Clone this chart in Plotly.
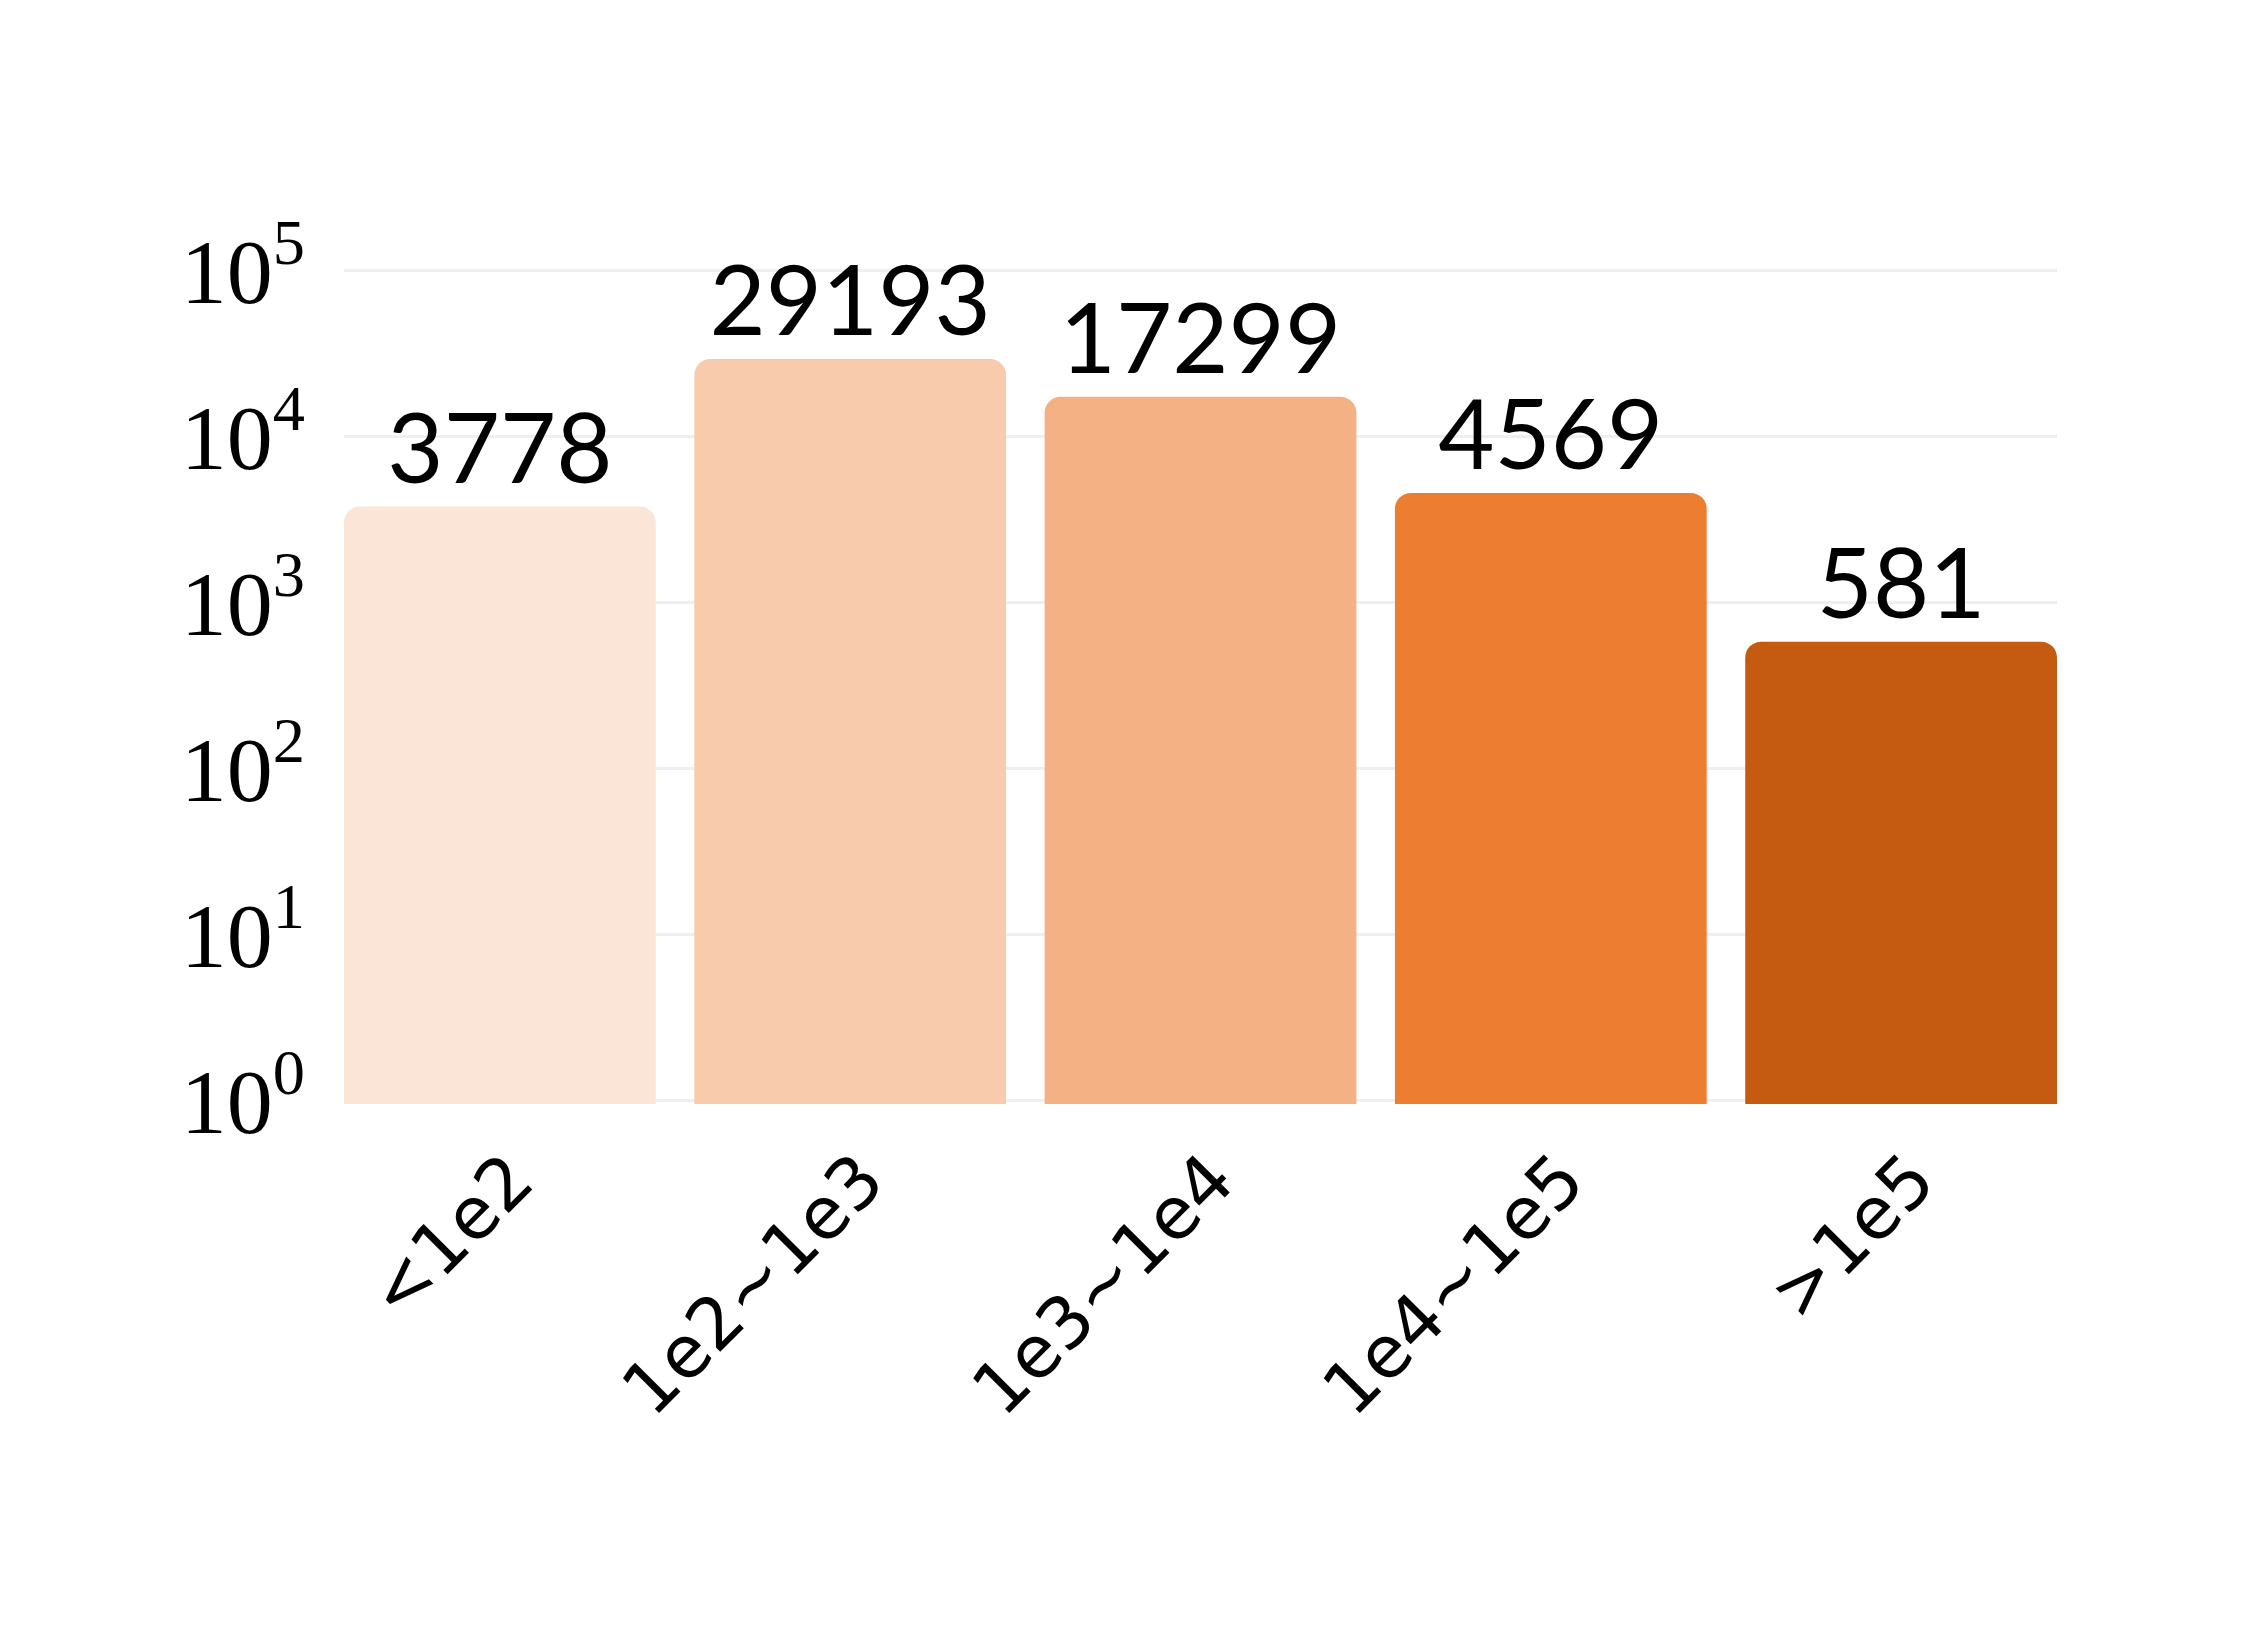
import plotly.graph_objects as go

categories = ["<1e2", "1e2~1e3", "1e3~1e4", "1e4~1e5", ">1e5"]
counts = [3778, 29193, 17299, 4569, 581]
bar_colors = ["#FBE5D6", "#F8CBAD", "#F4B183", "#ED7D31", "#C55A11"]

y_tick_vals = [1, 10, 100, 1000, 10000, 100000]
y_tick_text = ["10<sup>0</sup>", "10<sup>1</sup>", "10<sup>2</sup>",
               "10<sup>3</sup>", "10<sup>4</sup>", "10<sup>5</sup>"]

fig = go.Figure()
fig.add_trace(
    go.Bar(
        x=categories,
        y=counts,
        marker=dict(color=bar_colors, cornerradius=16, line=dict(width=0)),
        text=[str(c) for c in counts],
        textposition="outside",
        textfont=dict(family="Lato", size=97, color="black"),
        cliponaxis=False,
        width=0.89,
    )
)

# small pad on the log range so the 10^0 and 10^5 grid lines get drawn
fig.update_layout(
    width=2267,
    height=1643,
    margin=dict(l=336, r=218, t=259, b=547),
    plot_bgcolor="white",
    paper_bgcolor="white",
    showlegend=False,
    xaxis=dict(
        range=[-0.445, 4.445],
        tickangle=-45,
        tickfont=dict(family="DejaVu Sans", size=72, color="black"),
        showgrid=False,
        showline=False,
        ticks="",
        ticklabelstandoff=18,
        ticklabelshift=12,
    ),
    yaxis=dict(
        type="log",
        range=[-0.02, 5.02],
        tickvals=y_tick_vals,
        ticktext=y_tick_text,
        tickfont=dict(family="Liberation Serif", size=92, color="black"),
        showgrid=True,
        gridcolor="#EFEFEF",
        gridwidth=3,
        showline=False,
        zeroline=False,
        ticks="",
        ticklabelstandoff=38,
    ),
)

fig.write_html("out.html")
